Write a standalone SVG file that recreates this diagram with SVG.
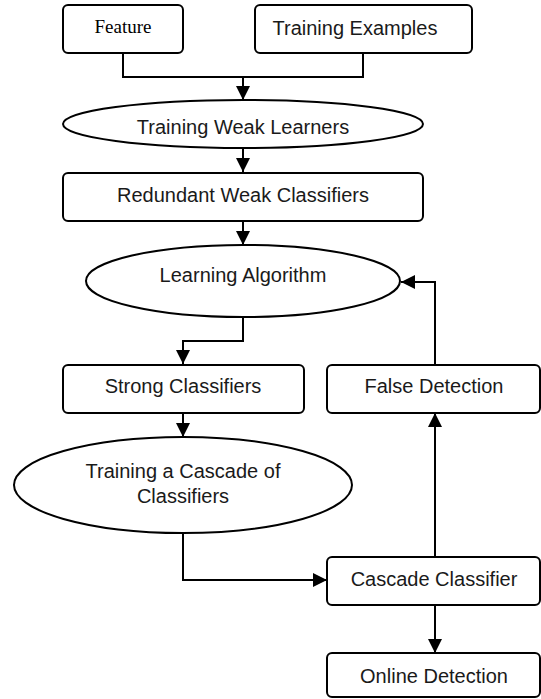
<svg xmlns="http://www.w3.org/2000/svg" width="541" height="699" viewBox="0 0 541 699">
<style>
.box{fill:#fff;stroke:#000;stroke-width:2}
.t{font-family:"Liberation Sans",Arial,sans-serif;font-size:20px;fill:#1a1a1a;text-anchor:middle}
.ts{font-family:"Liberation Serif","Times New Roman",serif;font-size:19px;fill:#000;text-anchor:middle}
.c{fill:none;stroke:#000;stroke-width:2}
</style>
<defs>
<marker id="ah" markerUnits="userSpaceOnUse" markerWidth="16" markerHeight="16" viewBox="0 0 16 16" refX="15" refY="8" orient="auto">
<path d="M1,1 L15,8 L1,15 Z" fill="#000"/>
</marker>
</defs>
<rect width="541" height="699" fill="#fff"/>
<g id="connectors">
<path class="c" d="M123,53 V77 H363 V53"/>
<path class="c" d="M243,77 V100" marker-end="url(#ah)"/>
<path class="c" d="M243,148 V172" marker-end="url(#ah)"/>
<path class="c" d="M243,221 V245" marker-end="url(#ah)"/>
<path class="c" d="M243,317 V341 H183 V364" marker-end="url(#ah)"/>
<path class="c" d="M183,413 V437" marker-end="url(#ah)"/>
<path class="c" d="M183,533 V580 H327" marker-end="url(#ah)"/>
<path class="c" d="M435,557 V413" marker-end="url(#ah)"/>
<path class="c" d="M435,365 V282 H401" marker-end="url(#ah)"/>
<path class="c" d="M435,605 V653" marker-end="url(#ah)"/>
</g>
<g id="feature">
<rect class="box" x="63" y="5" width="120" height="48" rx="5"/>
<text class="ts" x="123" y="33">Feature</text>
</g>
<g id="training-examples">
<rect class="box" x="255" y="5" width="217" height="48" rx="5"/>
<text class="t" x="355" y="35">Training Examples</text>
</g>
<g id="training-weak-learners">
<ellipse class="box" cx="243" cy="124" rx="180" ry="24"/>
<text class="t" x="243" y="134">Training Weak Learners</text>
</g>
<g id="redundant-weak-classifiers">
<rect class="box" x="63" y="173" width="360" height="48" rx="5"/>
<text class="t" x="243" y="202">Redundant Weak Classifiers</text>
</g>
<g id="learning-algorithm">
<ellipse class="box" cx="243" cy="281" rx="157" ry="36"/>
<text class="t" x="243" y="282">Learning Algorithm</text>
</g>
<g id="strong-classifiers">
<rect class="box" x="63" y="365" width="241" height="48" rx="5"/>
<text class="t" x="183" y="393">Strong Classifiers</text>
</g>
<g id="false-detection">
<rect class="box" x="327" y="365" width="213" height="48" rx="5"/>
<text class="t" x="434" y="393">False Detection</text>
</g>
<g id="training-cascade">
<ellipse class="box" cx="183" cy="485" rx="169" ry="48"/>
<text class="t" x="183" y="478">Training a Cascade of</text>
<text class="t" x="183" y="503">Classifiers</text>
</g>
<g id="cascade-classifier">
<rect class="box" x="327" y="557" width="213" height="48" rx="5"/>
<text class="t" x="434" y="586">Cascade Classifier</text>
</g>
<g id="online-detection">
<rect class="box" x="327" y="653" width="213" height="44" rx="5"/>
<text class="t" x="434" y="683">Online Detection</text>
</g>
</svg>
